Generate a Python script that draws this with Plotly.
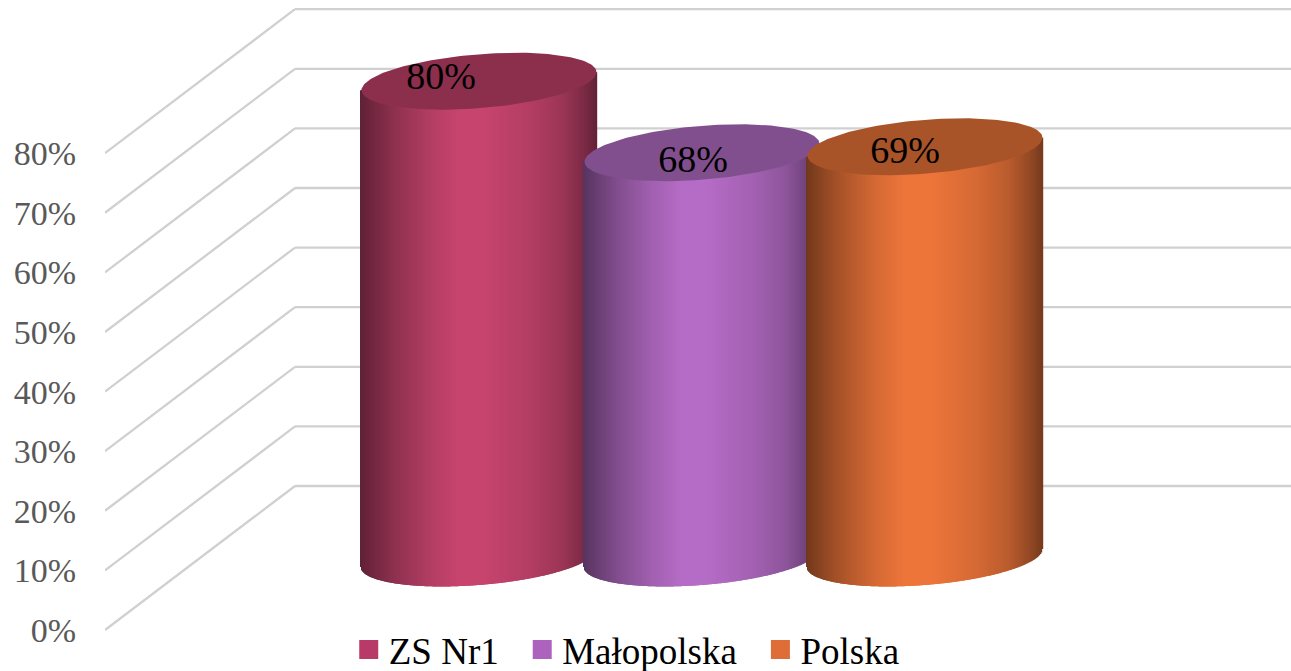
import numpy as np
import plotly.graph_objects as go

categories = ["ZS Nr1", "Małopolska", "Polska"]
values = [80, 68, 69]
tick_values = [0, 10, 20, 30, 40, 50, 60, 70, 80]
tick_labels = ["0%", "10%", "20%", "30%", "40%", "50%", "60%", "70%", "80%"]
bright_colors = ["#c7446f", "#b56cc6", "#ee753a"]
top_colors = ["#8b2f4d", "#824f8e", "#a95428"]
legend_colors = ["#b83a66", "#ad62bd", "#df6d37"]
label_dx = [-38, -9, -20]
label_dy = [0.3, -1.7, -1.2]

FONT = "Liberation Serif"
PX_PER_VALUE = 5.96
Y_TOP = 630 / PX_PER_VALUE
Y_BOTTOM = -41 / PX_PER_VALUE
X_LEFT, X_RIGHT = 105, 1291
WALL_X = 295
DEPTH = 144 / PX_PER_VALUE
FIRST_X, STEP_X = 479, 223
RADIUS = 117.5
TILT = 9 / PX_PER_VALUE
MINOR = 27 / PX_PER_VALUE

shade_t = [0, 0.06, 0.15, 0.3, 0.42, 0.52, 0.72, 0.86, 0.95, 1]
shade_f = [0.48, 0.58, 0.72, 0.9, 1, 1, 0.9, 0.78, 0.62, 0.5]


def hex_rgb(h):
    return [int(h[i:i + 2], 16) for i in (1, 3, 5)]


fig = go.Figure()

for i, (name, v) in enumerate(zip(categories, values)):
    cx = FIRST_X + i * STEP_X
    xs = np.arange(cx - RADIUS, cx + RADIUS + 0.5, 1.0)
    c = (xs - cx) / RADIUS
    s = np.sqrt(np.clip(1 - c ** 2, 0, 1))
    base = DEPTH / 2 + TILT * c - MINOR * s
    top = DEPTH / 2 + v + TILT * c
    f = np.interp((c + 1) / 2, shade_t, shade_f)
    rgb = hex_rgb(bright_colors[i])
    colors = [f"rgb({r * k:.0f},{g * k:.0f},{b * k:.0f})" for k in f for r, g, b in [rgb]]
    fig.add_trace(go.Bar(x=xs, y=top - base, base=base, width=1.4,
                         marker=dict(color=colors, line=dict(width=0)),
                         showlegend=False, hoverinfo="skip"))

for i, (name, v) in enumerate(zip(categories, values)):
    cx = FIRST_X + i * STEP_X
    t = np.linspace(0, 2 * np.pi, 181)
    ex = cx + RADIUS * np.cos(t)
    ey = DEPTH / 2 + v + TILT * np.cos(t) + MINOR * np.sin(t)
    fig.add_trace(go.Scatter(x=ex, y=ey, mode="lines", fill="toself",
                             fillcolor=top_colors[i], line=dict(width=0),
                             showlegend=False, hoverinfo="skip"))

for i, (name, v) in enumerate(zip(categories, values)):
    cx = FIRST_X + i * STEP_X
    fig.add_trace(go.Scatter(x=[cx + label_dx[i]], y=[DEPTH / 2 + v + label_dy[i]],
                             mode="text", text=[f"{v}%"],
                             textfont=dict(family=FONT, size=38, color="#000000"),
                             textposition="middle center",
                             showlegend=False, hoverinfo="skip"))

for i, name in enumerate(categories):
    fig.add_trace(go.Scatter(x=[None], y=[None], mode="markers", name=name + "\u00a0\u00a0",
                             marker=dict(symbol="square", size=16, color=legend_colors[i],
                                         line=dict(color=legend_colors[i], width=3))))

grid = dict(color="#d0d0d0", width=2.3)
for v in tick_values:
    fig.add_shape(type="line", layer="below", x0=X_LEFT, y0=v, x1=WALL_X, y1=v + DEPTH, line=grid)
    fig.add_shape(type="line", layer="below", x0=WALL_X, y0=v + DEPTH, x1=X_RIGHT, y1=v + DEPTH, line=grid)

fig.update_layout(
    width=1291, height=700,
    margin=dict(l=X_LEFT, r=0, t=0, b=29),
    plot_bgcolor="white", paper_bgcolor="white",
    barmode="overlay",
    font=dict(family=FONT),
    xaxis=dict(range=[X_LEFT, X_RIGHT], visible=False, fixedrange=True),
    yaxis=dict(range=[Y_BOTTOM, Y_TOP], tickmode="array", tickvals=tick_values, ticktext=tick_labels,
               showgrid=False, zeroline=False, showline=False, ticks="outside",
               ticklen=21, tickcolor="rgba(0,0,0,0)", fixedrange=True,
               tickfont=dict(family=FONT, size=34, color="#595959")),
    legend=dict(orientation="h", x=0.4475, xanchor="center", y=0.0775, yanchor="top",
                font=dict(family=FONT, size=37, color="#000000"),
                bgcolor="rgba(0,0,0,0)"),
)

fig.write_html("out.html", config={"displayModeBar": False},
               post_script="document.body.style.margin='0';document.documentElement.style.overflow='hidden';")
